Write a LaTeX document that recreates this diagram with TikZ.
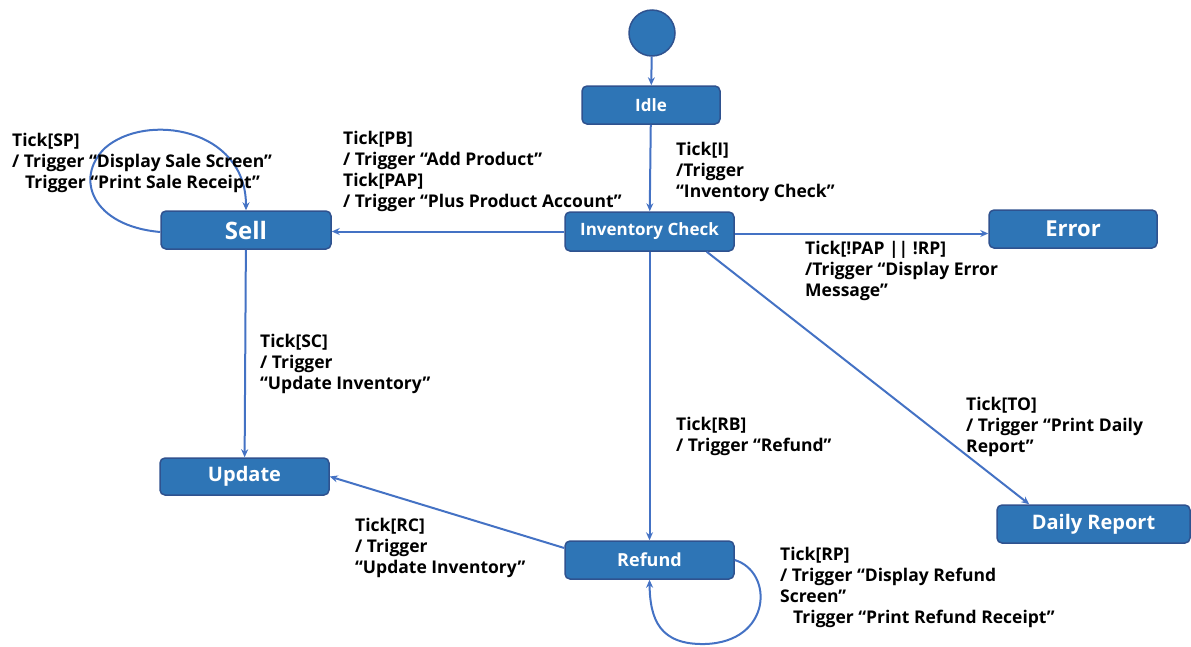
\documentclass[tikz,border=0pt]{standalone}
\usepackage{fontspec}
\setmainfont{Open Sans}
\usetikzlibrary{arrows.meta}
\definecolor{fillcol}{HTML}{2E75B6}
\definecolor{bordercol}{HTML}{2F528F}
\definecolor{linecol}{HTML}{4472C4}
\tikzset{
  statebox/.style={draw=bordercol, fill=fillcol, rounded corners=5pt, line width=1.5pt,
    text=white, inner sep=0pt},
  conn/.style={draw=linecol, line width=2pt, -{Stealth[length=8pt,width=7pt]}},
  lbl/.style={anchor=north west, align=left, inner sep=0pt,
    font=\bfseries\fontsize{17.5}{21}\selectfont}
}
\begin{document}
\begin{tikzpicture}[x=1pt,y=-1pt]
\useasboundingbox (0,0) rectangle (1191,646);
% states
\node[statebox, circle, minimum size=46pt] (start) at (652,33) {};
\node[statebox, minimum width=138pt, minimum height=38pt, font=\bfseries\fontsize{17}{20}\selectfont] (idle) at (651,105) {Idle};
\node[statebox, minimum width=169pt, minimum height=39pt, font=\bfseries\fontsize{17}{20}\selectfont] (inv) at (649.5,231.5) {Inventory Check};
\node[statebox, minimum width=170pt, minimum height=38pt, font=\bfseries\fontsize{24}{28}\selectfont] (sell) at (246,230) {Sell};
\node[statebox, minimum width=168pt, minimum height=38pt, font=\bfseries\fontsize{22}{26}\selectfont] (error) at (1073,229) {Error};
\node[statebox, minimum width=169pt, minimum height=37pt, font=\bfseries\fontsize{20}{24}\selectfont] (update) at (244.5,476.5) {Update};
\node[statebox, minimum width=169pt, minimum height=38pt, font=\bfseries\fontsize{18}{22}\selectfont] (refund) at (649.5,560) {Refund};
\node[statebox, minimum width=193pt, minimum height=38pt, font=\bfseries\fontsize{20}{24}\selectfont] (daily) at (1093.5,524) {Daily Report};
% connectors
\draw[conn] (start) -- (idle);
\draw[conn] (idle) -- (inv);
\draw[conn] (inv.west) -- (inv.west -| sell.east);
\draw[conn] ([yshift=-2pt]inv.east) -- ([yshift=-2pt]inv.east -| error.west);
\draw[conn] (sell) -- (update);
\draw[conn] (inv) -- (refund);
\draw[conn] ([xshift=-28pt]inv.south east) -- ([xshift=33pt]daily.north west);
\draw[conn] ([yshift=12pt]refund.west) -- (update.east);
\draw[conn] ([yshift=-2pt]sell.west) .. controls (92,226) and (74,178) .. (105,148)
  .. controls (146,112) and (246,128) .. (sell.north);
\draw[conn] (refund.east) .. controls (774,572) and (772,642) .. (705,644)
  .. controls (660,645) and (650,620) .. (refund.south);
% labels
\node[lbl] (lsp) at (12,133) {Tick[SP]\\/ Trigger “Display Sale Screen”\\\hspace*{13pt}Trigger “Print Sale Receipt”};
\node[lbl] (lpb) at (343,131) {Tick[PB]\\/ Trigger “Add Product”\\Tick[PAP]\\/ Trigger “Plus Product Account”};
\node[lbl] (li) at (676,142) {Tick[I]\\/Trigger\\“Inventory Check”};
\node[lbl] (lerr) at (805,241) {Tick[!PAP || !RP]\\/Trigger “Display Error\\Message”};
\node[lbl] (lsc) at (260,334) {Tick[SC]\\/ Trigger\\“Update Inventory”};
\node[lbl] (lrb) at (676,417) {Tick[RB]\\/ Trigger “Refund”};
\node[lbl] (lto) at (966,397) {Tick[TO]\\/ Trigger “Print Daily\\Report”};
\node[lbl] (lrc) at (355,518) {Tick[RC]\\/ Trigger\\“Update Inventory”};
\node[lbl] (lrp) at (780,547) {Tick[RP]\\/ Trigger “Display Refund\\Screen”\\\hspace*{13pt}Trigger “Print Refund Receipt”};
\end{tikzpicture}
\end{document}
